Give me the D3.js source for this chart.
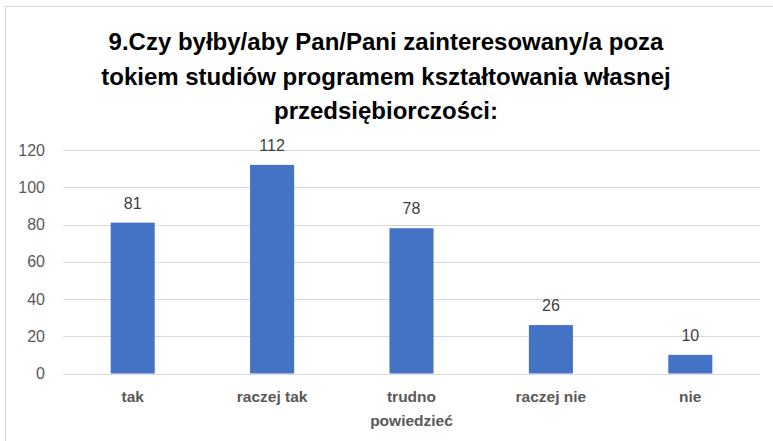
<!DOCTYPE html>
<html>
<head>
<meta charset="utf-8">
<script src="https://cdn.jsdelivr.net/npm/d3@7"></script>
<style>
  body { margin: 0; background: #fff; }
  svg { display: block; font-family: "Liberation Sans", Arial, sans-serif; }
</style>
</head>
<body>
<script>
// Chart data
const categories = ["tak", "raczej tak", "trudno powiedzieć", "raczej nie", "nie"];
const labelLines = [["tak"], ["raczej tak"], ["trudno", "powiedzieć"], ["raczej nie"], ["nie"]];
const values = [81, 112, 78, 26, 10];
const yTicks = [0, 20, 40, 60, 80, 100, 120];
const titleLines = [
  "9.Czy byłby/aby Pan/Pani zainteresowany/a poza",
  "tokiem studiów programem kształtowania własnej",
  "przedsiębiorczości:"
];

const width = 773, height = 441;
const margin = { top: 150, right: 13, bottom: 67.5, left: 63 };

const svg = d3.select("body").append("svg")
  .attr("width", width)
  .attr("height", height);

// chart frame (only left and top edges are visible in the picture)
svg.append("rect")
  .attr("x", 5.5).attr("y", 6.5)
  .attr("width", width + 20).attr("height", height + 20)
  .attr("fill", "#fff")
  .attr("stroke", "#d9d9d9")
  .attr("stroke-width", 1);

// title
svg.append("g").selectAll("text")
  .data(titleLines)
  .enter().append("text")
  .attr("x", 386)
  .attr("y", (d, i) => 50 + i * 34.5)
  .attr("text-anchor", "middle")
  .style("font-size", "24px")
  .style("font-weight", "bold")
  .style("fill", "#000")
  .text(d => d);

const x = d3.scaleBand()
  .domain(categories)
  .range([margin.left, width - margin.right])
  .paddingInner(0.684)
  .paddingOuter(0.342);

const y = d3.scaleLinear()
  .domain([0, 120])
  .range([height - margin.bottom, margin.top]);

// gridlines
svg.append("g").selectAll("line")
  .data(yTicks)
  .enter().append("line")
  .attr("x1", margin.left)
  .attr("x2", width - margin.right)
  .attr("y1", d => Math.round(y(d)) + 0.5)
  .attr("y2", d => Math.round(y(d)) + 0.5)
  .attr("stroke", "#d9d9d9")
  .attr("stroke-width", 1);

// y tick labels
svg.append("g").selectAll("text")
  .data(yTicks)
  .enter().append("text")
  .attr("x", 45)
  .attr("y", d => y(d))
  .attr("dy", "0.35em")
  .attr("text-anchor", "end")
  .style("font-size", "16px")
  .style("fill", "#595959")
  .text(d => d);

// bars
svg.append("g").selectAll("rect")
  .data(values)
  .enter().append("rect")
  .attr("x", (d, i) => x(categories[i]))
  .attr("width", x.bandwidth())
  .attr("y", d => y(d))
  .attr("height", d => y(0) - y(d))
  .attr("fill", "#4472c4");

// value labels
svg.append("g").selectAll("text")
  .data(values)
  .enter().append("text")
  .attr("x", (d, i) => x(categories[i]) + x.bandwidth() / 2)
  .attr("y", d => y(d) - 14)
  .attr("text-anchor", "middle")
  .style("font-size", "16px")
  .style("fill", "#404040")
  .text(d => d);

// category labels
const cat = svg.append("g").selectAll("text")
  .data(labelLines)
  .enter().append("text")
  .attr("x", (d, i) => x(categories[i]) + x.bandwidth() / 2)
  .attr("y", 402)
  .attr("text-anchor", "middle")
  .style("font-size", "15.5px")
  .style("font-weight", "bold")
  .style("fill", "#595959");

cat.selectAll("tspan")
  .data(d => d)
  .enter().append("tspan")
  .attr("x", function() { return this.parentNode.getAttribute("x"); })
  .attr("dy", (d, i) => i === 0 ? 0 : 24)
  .text(d => d);
</script>
</body>
</html>
